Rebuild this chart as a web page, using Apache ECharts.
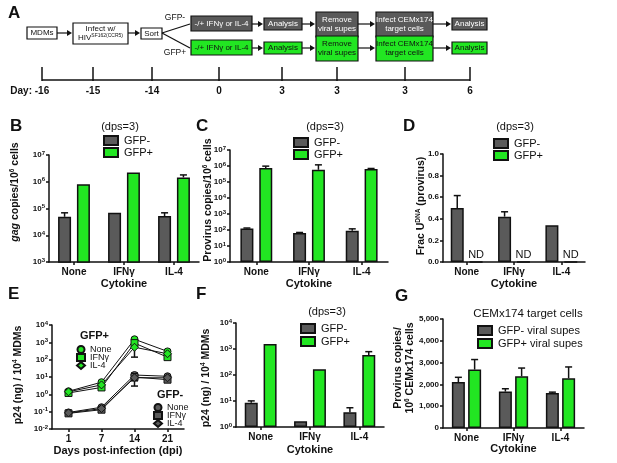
<!DOCTYPE html>
<html>
<head>
<meta charset="utf-8">
<script src="https://cdn.jsdelivr.net/npm/echarts@6/dist/echarts.min.js"></script>
<style>
  html, body { margin: 0; padding: 0; background: #fff; }
  #chart { width: 617px; height: 463px; }
</style>
</head>
<body>
<div id="chart"></div>
<script>
// categories and tick labels
const cytokines = ['None', 'IFNγ', 'IL-4'];
const days = ['1', '7', '14', '21'];
const dayLabels = ['-16', '-15', '-14', '0', '3', '3', '3', '6'];

// B: gag copies / 10^6 cells
const gagNeg = [49000, 69000, 52000];
const gagNegErr = [20000, 0, 17000];
const gagPos = [810000, 2200000, 1450000];
const gagPosErr = [0, 0, 350000];

// C: provirus copies / 10^6 cells
const provNeg = [125, 66, 90];
const provNegErr = [8, 4, 28];
const provPos = [760000, 580000, 660000];
const provPosErr = [220000, 600000, 40000];

// D: fraction U-DNA
const fracNeg = [0.50, 0.42, 0.34];
const fracNegErr = [0.115, 0.045, 0];
const fracPos = [0, 0, 0];
const fracPosLabel = ['ND', 'ND', 'ND'];

// E: p24 over time
const p24PosNone = [1.5, 5, 1500, 300];
const p24PosNoneErr = [0.3, 1, 300, 60];
const p24PosIfn = [1.2, 2.5, 900, 140];
const p24PosIfnErr = [0.2, 0.6, 300, 30];
const p24PosIl4 = [1.4, 3.5, 520, 220];
const p24PosIl4Err = [0.3, 1, 380, 50];
const p24NegNone = [0.09, 0.18, 13, 11];
const p24NegNoneErr = [0.015, 0.03, 3, 2];
const p24NegIfn = [0.08, 0.13, 10, 7];
const p24NegIfnErr = [0.01, 0.02, 7, 2];
const p24NegIl4 = [0.085, 0.15, 9, 9];
const p24NegIl4Err = [0.01, 0.02, 3, 2];

// F: p24 at dps=3
const p24Neg = [8.5, 1.65, 3.7];
const p24NegErr = [1.6, 0, 1.8];
const p24Pos = [1550, 165, 590];
const p24PosErr = [0, 0, 200];

// G: CEMx174 target cells
const cemNeg = [2110, 1670, 1600];
const cemNegErr = [215, 130, 45];
const cemPos = [2680, 2370, 2280];
const cemPosErr = [460, 380, 520];

const FONT = '"Liberation Sans", Arial, sans-serif';
const INK = '#111';
const GRAY = '#5a5a5a';
const GREEN = '#22e622';
const BW = 13;
const GAP = 0.45;
const OFF = BW * (1 + GAP) / 2;
const G_GAP = 0.25;
const G_OFF = BW * (1 + G_GAP) / 2;

const chart = echarts.init(document.getElementById('chart'));

const axisLine = { show: true, lineStyle: { color: INK, width: 1.5 } };
const axisTick = { show: true, length: 3, lineStyle: { color: INK, width: 1.5 } };
const supRich = { s: { fontSize: 6, fontWeight: 'bold', fontFamily: FONT, color: INK, verticalAlign: 'top', padding: [0, 0, 4, 0] } };

function catAxis(gridIndex, data, name, nameGap) {
  return {
    type: 'category', gridIndex, data, name, nameLocation: 'middle', nameGap,
    nameTextStyle: { fontFamily: FONT, fontWeight: 'bold', fontSize: 11, color: INK },
    axisLine, axisTick: Object.assign({ alignWithLabel: true }, axisTick),
    axisLabel: { fontFamily: FONT, fontWeight: 'bold', fontSize: 10, color: INK, margin: 5 }
  };
}

function logAxis(gridIndex, min, max) {
  return {
    type: 'log', logBase: 10, gridIndex, min, max,
    splitLine: { show: false }, axisLine, axisTick,
    axisLabel: {
      fontFamily: FONT, fontWeight: 'bold', fontSize: 8, color: INK, margin: 4,
      formatter: v => '10{s|' + Math.round(Math.log10(v)) + '}',
      rich: supRich
    }
  };
}

function valAxis(gridIndex, min, max, interval, fmt) {
  return {
    type: 'value', gridIndex, min, max, interval,
    splitLine: { show: false }, axisLine, axisTick,
    axisLabel: { fontFamily: FONT, fontWeight: 'bold', fontSize: 8, color: INK, margin: 4, formatter: fmt }
  };
}

function bars(name, idx, data, color, gap) {
  return {
    type: 'bar', name, xAxisIndex: idx, yAxisIndex: idx, data,
    barWidth: BW, barGap: (gap * 100) + '%', clip: true,
    itemStyle: { color, borderColor: INK, borderWidth: 1.5 }
  };
}

// error bars drawn through the axes; both = symmetric (used for line plot)
function errBars(idx, vals, errs, off, both) {
  return {
    type: 'custom', xAxisIndex: idx, yAxisIndex: idx, silent: true, z: 3,
    data: vals.map((v, i) => [i, v, errs[i]]),
    renderItem: function (params, api) {
      const i = api.value(0), v = api.value(1), e = api.value(2);
      if (!e) return null;
      const top = api.coord([i, v + e]);
      const low = api.coord([i, both ? Math.max(v - e, v * 0.05) : v]);
      const x = top[0] + off;
      const cap = 3.5;
      const st = { stroke: INK, lineWidth: 1.5 };
      const kids = [
        { type: 'line', shape: { x1: x, y1: low[1], x2: x, y2: top[1] }, style: st },
        { type: 'line', shape: { x1: x - cap, y1: top[1], x2: x + cap, y2: top[1] }, style: st }
      ];
      if (both) kids.push({ type: 'line', shape: { x1: x - cap, y1: low[1], x2: x + cap, y2: low[1] }, style: st });
      return { type: 'group', children: kids };
    }
  };
}

function lineSeries(name, data, symbol, color) {
  return {
    type: 'line', name, xAxisIndex: 3, yAxisIndex: 3, data, symbol,
    symbolSize: symbol === 'diamond' ? 8 : 7, z: 4,
    lineStyle: { color: INK, width: 1 },
    itemStyle: { color, borderColor: INK, borderWidth: 1 }
  };
}

function barLegend(left, top, names, gap) {
  return {
    orient: 'vertical', left, top, data: names.map(n => ({ name: n, icon: 'rect' })),
    itemWidth: 14, itemHeight: 9, itemGap: gap, selectedMode: false,
    textStyle: { fontFamily: FONT, fontSize: 11, color: INK, padding: [0, 0, 0, 1] }
  };
}

function lineLegend(left, top, names, icons) {
  return {
    orient: 'vertical', left, top, itemWidth: 8, itemHeight: 7, itemGap: -1, selectedMode: false,
    data: names.map((n, i) => ({ name: n, icon: icons[i] })),
    formatter: n => n.slice(5),
    textStyle: { fontFamily: FONT, fontSize: 9, color: INK, lineHeight: 8, padding: [0, 0, 0, 0] }
  };
}

function txt(text, left, top, size, weight) {
  return { text, left, top, textStyle: { fontFamily: FONT, fontSize: size, fontWeight: weight || 'normal', color: INK } };
}

// ---------- panel A: flow diagram ----------
function box(x, y, w, h, fill, color, text) {
  return [
    { type: 'rect', shape: { x, y, width: w, height: h }, style: { fill, stroke: INK, lineWidth: 1.2 } },
    { type: 'text', x: x + w / 2, y: y + h / 2,
      style: { text, fill: color, fontFamily: FONT, fontSize: 8, align: 'center', verticalAlign: 'middle',
               textAlign: 'center', textVerticalAlign: 'middle', lineHeight: 9,
               rich: { s: { fontSize: 5, fontFamily: FONT, fill: color, verticalAlign: 'top' } } } }
  ];
}
function arrow(x1, x2, y) {
  return [
    { type: 'line', shape: { x1, y1: y, x2: x2 - 4, y2: y }, style: { stroke: INK, lineWidth: 1.2 } },
    { type: 'polygon', shape: { points: [[x2, y], [x2 - 5, y - 3], [x2 - 5, y + 3]] }, style: { fill: INK } }
  ];
}
function label(text, x, y, size, weight, align, color, rot) {
  return { type: 'text', x, y, rotation: rot || 0,
    style: { text, fill: color || INK, fontFamily: FONT, fontSize: size, fontWeight: weight || 'normal',
             align: align || 'center', verticalAlign: 'middle', textAlign: align || 'center', textVerticalAlign: 'middle',
             lineHeight: size + 2,
             rich: { s: { fontSize: size * 0.62, fontWeight: weight || 'normal', fontFamily: FONT, fill: color || INK, verticalAlign: 'top' },
                     i: { fontSize: size, fontWeight: weight || 'normal', fontStyle: 'italic', fontFamily: FONT, fill: color || INK } } } };
}

const flow = [];
flow.push(...box(27, 27, 30, 12, '#fff', INK, 'MDMs'));
flow.push(...arrow(57, 72, 33));
flow.push(...box(73, 23, 55, 21, '#fff', INK, 'Infect w/\nHIV{s|SF162(CCR5)}'));
flow.push(...arrow(128, 140, 33));
flow.push(...box(141, 28, 21, 11, '#fff', INK, 'Sort'));
flow.push({ type: 'line', shape: { x1: 162, y1: 33, x2: 190, y2: 24 }, style: { stroke: INK, lineWidth: 1.2 } });
flow.push({ type: 'line', shape: { x1: 162, y1: 33, x2: 190, y2: 48 }, style: { stroke: INK, lineWidth: 1.2 } });
flow.push(label('GFP-', 175, 18, 8.5));
flow.push(label('GFP+', 175, 53, 8.5));
const rows = [
  { fill: GRAY, color: '#fff', y: 24 },
  { fill: GREEN, color: INK, y: 48 }
];
rows.forEach(r => {
  const c = r.y;
  flow.push(...box(191, c - 8, 61, 15, r.fill, r.color, '-/+ IFNγ or IL-4'));
  flow.push(...arrow(252, 263, c));
  flow.push(...box(264, c - 6, 38, 12, r.fill, r.color, 'Analysis'));
  flow.push(...arrow(302, 315, c));
  flow.push(...box(316, c - 12, 42, 25, r.fill, r.color, 'Remove\nviral supes'));
  flow.push(...arrow(358, 375, c));
  flow.push(...box(376, c - 12, 57, 25, r.fill, r.color, 'Infect CEMx174\ntarget cells'));
  flow.push(...arrow(433, 451, c));
  flow.push(...box(452, c - 6, 35, 12, r.fill, r.color, 'Analysis'));
});
const tickX = [42, 93, 152, 219, 282, 337, 405, 470];
flow.push({ type: 'line', shape: { x1: 42, y1: 80, x2: 470, y2: 80 }, style: { stroke: INK, lineWidth: 1.5 } });
tickX.forEach((x, i) => {
  flow.push({ type: 'line', shape: { x1: x, y1: 67, x2: x, y2: 81 }, style: { stroke: INK, lineWidth: 1.5 } });
  flow.push(label(dayLabels[i], x, 91, 10, 'bold'));
});
flow.push(label('Day:', 32, 91, 10, 'bold', 'right'));

// y-axis titles
const yTitles = [
  label('{i|gag} copies/10{s|6} cells', 15, 192, 10.5, 'bold', 'center', INK, Math.PI / 2),
  label('Provirus copies/10{s|6} cells', 208, 200, 10.5, 'bold', 'center', INK, Math.PI / 2),
  label('Frac U{s|DNA} (provirus)', 421, 206, 10.5, 'bold', 'center', INK, Math.PI / 2),
  label('p24 (ng) / 10{s|4} MDMs', 18, 375, 10.5, 'bold', 'center', INK, Math.PI / 2),
  label('p24 (ng) / 10{s|4} MDMs', 206, 378, 10.5, 'bold', 'center', INK, Math.PI / 2),
  label('Provirus copies/\n10{s|6} CEMx174 cells', 404, 368, 10.5, 'bold', 'center', INK, Math.PI / 2)
];

const option = {
  animation: false,
  textStyle: { fontFamily: FONT },
  title: [
    txt('A', 3, 0, 17, 'bold'),
    txt('B', 5, 113, 17, 'bold'),
    txt('C', 191, 113, 17, 'bold'),
    txt('D', 398, 113, 17, 'bold'),
    txt('E', 3, 281, 17, 'bold'),
    txt('F', 191, 281, 17, 'bold'),
    txt('G', 390, 283, 17, 'bold'),
    Object.assign(txt('(dps=3)', 115, 116, 11), { textAlign: 'center' }),
    Object.assign(txt('(dps=3)', 320, 116, 11), { textAlign: 'center' }),
    Object.assign(txt('(dps=3)', 510, 116, 11), { textAlign: 'center' }),
    Object.assign(txt('(dps=3)', 322, 301, 11), { textAlign: 'center' }),
    Object.assign(txt('CEMx174 target cells', 523, 303, 11.5), { textAlign: 'center' }),
    txt('GFP+', 75, 325, 11, 'bold'),
    txt('GFP-', 152, 384, 11, 'bold')
  ],
  legend: [
    barLegend(98, 130, ['GFP-', 'GFP+'], 1),
    barLegend(288, 132, ['GFP-', 'GFP+'], 1),
    barLegend(488, 133, ['GFP-', 'GFP+'], 1),
    barLegend(295, 318, ['GFP-', 'GFP+'], 2),
    barLegend(472, 320, ['GFP- viral supes', 'GFP+ viral supes'], 2),
    lineLegend(71, 340, ['GFP+ None', 'GFP+ IFNγ', 'GFP+ IL-4'], ['circle', 'rect', 'diamond']),
    lineLegend(148, 398, ['GFP- None', 'GFP- IFNγ', 'GFP- IL-4'], ['circle', 'rect', 'diamond'])
  ],
  grid: [
    { left: 49, top: 155, width: 150, height: 107 },
    { left: 230, top: 150, width: 158, height: 112 },
    { left: 443, top: 154, width: 142, height: 108 },
    { left: 52, top: 325, width: 132, height: 104 },
    { left: 236, top: 323, width: 148, height: 104 },
    { left: 443, top: 319, width: 141, height: 109 }
  ],
  xAxis: [
    catAxis(0, cytokines, 'Cytokine', 16),
    catAxis(1, cytokines, 'Cytokine', 16),
    catAxis(2, cytokines, 'Cytokine', 16),
    catAxis(3, days, 'Days post-infection (dpi)', 16),
    catAxis(4, cytokines, 'Cytokine', 17),
    catAxis(5, cytokines, 'Cytokine', 14)
  ],
  yAxis: [
    logAxis(0, 1e3, 1e7),
    logAxis(1, 1, 1e7),
    valAxis(2, 0, 1, 0.2, v => v.toFixed(1)),
    logAxis(3, 0.01, 1e4),
    logAxis(4, 1, 1e4),
    valAxis(5, 0, 5000, 1000, v => v.toLocaleString('en-US'))
  ],
  series: [
    // B
    bars('GFP-', 0, gagNeg, GRAY, GAP),
    bars('GFP+', 0, gagPos, GREEN, GAP),
    errBars(0, gagNeg, gagNegErr, -OFF),
    errBars(0, gagPos, gagPosErr, OFF),
    // C
    bars('GFP-', 1, provNeg, GRAY, GAP),
    bars('GFP+', 1, provPos, GREEN, GAP),
    errBars(1, provNeg, provNegErr, -OFF),
    errBars(1, provPos, provPosErr, OFF),
    // D
    bars('GFP-', 2, fracNeg, GRAY, GAP),
    Object.assign(bars('GFP+', 2, fracPos, GREEN, GAP), {
      label: { show: true, position: 'top', distance: 1, fontFamily: FONT, fontSize: 11, color: INK,
               formatter: p => fracPosLabel[p.dataIndex] }
    }),
    errBars(2, fracNeg, fracNegErr, -OFF),
    // E
    lineSeries('GFP+ None', p24PosNone, 'circle', GREEN),
    lineSeries('GFP+ IFNγ', p24PosIfn, 'rect', GREEN),
    lineSeries('GFP+ IL-4', p24PosIl4, 'diamond', GREEN),
    lineSeries('GFP- None', p24NegNone, 'circle', GRAY),
    lineSeries('GFP- IFNγ', p24NegIfn, 'rect', GRAY),
    lineSeries('GFP- IL-4', p24NegIl4, 'diamond', GRAY),
    errBars(3, p24PosNone, p24PosNoneErr, 0, true),
    errBars(3, p24PosIfn, p24PosIfnErr, 0, true),
    errBars(3, p24PosIl4, p24PosIl4Err, 0, true),
    errBars(3, p24NegNone, p24NegNoneErr, 0, true),
    errBars(3, p24NegIfn, p24NegIfnErr, 0, true),
    errBars(3, p24NegIl4, p24NegIl4Err, 0, true),
    // F
    bars('GFP-', 4, p24Neg, GRAY, GAP),
    bars('GFP+', 4, p24Pos, GREEN, GAP),
    errBars(4, p24Neg, p24NegErr, -OFF),
    errBars(4, p24Pos, p24PosErr, OFF),
    // G
    bars('GFP- viral supes', 5, cemNeg, GRAY, G_GAP),
    bars('GFP+ viral supes', 5, cemPos, GREEN, G_GAP),
    errBars(5, cemNeg, cemNegErr, -G_OFF),
    errBars(5, cemPos, cemPosErr, G_OFF)
  ],
  graphic: flow.concat(yTitles)
};

chart.setOption(option);
</script>
</body>
</html>
